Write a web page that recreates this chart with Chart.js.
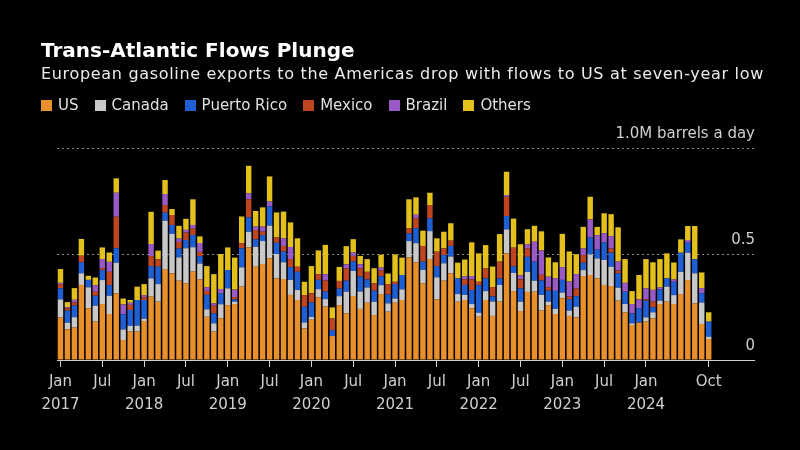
<!DOCTYPE html>
<html>
<head>
<meta charset="utf-8">
<script src="https://cdn.jsdelivr.net/npm/chart.js@4.4.1/dist/chart.umd.min.js"></script>
<style>
html,body{margin:0;padding:0;background:#000;}
#wrap{position:relative;width:800px;height:450px;background:#000;overflow:hidden;}
#title{position:absolute;left:41px;top:38px;font:bold 20px "DejaVu Sans";color:#fff;white-space:nowrap;}
#sub{position:absolute;left:41px;top:64px;font:16px "DejaVu Sans";letter-spacing:0.68px;color:#ececec;white-space:nowrap;}
#legend{position:absolute;left:41px;top:96px;font:15px "DejaVu Sans";color:#e0e0e0;display:flex;white-space:nowrap;}
.item{display:flex;align-items:center;margin-right:16px;}
.sw{width:11px;height:11px;margin-right:6px;}
canvas{position:absolute;left:0;top:0;}
</style>
</head>
<body>
<div id="wrap">
  <canvas id="c" width="800" height="450"></canvas>
  <div id="title">Trans-Atlantic Flows Plunge</div>
  <div id="sub">European gasoline exports to the Americas drop with flows to US at seven-year low</div>
  <div id="legend"></div>
</div>
<script>
// ---- Data (million barrels a day), monthly Jan 2017 – Oct 2024 ----
const seriesNames = ['US', 'Canada', 'Puerto Rico', 'Mexico', 'Brazil', 'Others'];
const seriesColors = ['#e8902c', '#c8c8c8', '#1f5fd4', '#bf4520', '#9a5ac6', '#e3c01c'];

const us = [
  0.200,0.145,0.153,0.354,0.244,0.181,0.264,0.217,0.314,0.094,0.134,0.134,
  0.184,0.299,0.275,0.429,0.409,0.374,0.362,0.417,0.380,0.204,0.134,0.197,
  0.259,0.264,0.346,0.531,0.440,0.453,0.480,0.385,0.382,0.307,0.283,0.149,
  0.190,0.296,0.252,0.113,0.259,0.220,0.302,0.241,0.270,0.212,0.311,0.228,
  0.270,0.283,0.484,0.461,0.362,0.476,0.286,0.374,0.409,0.275,0.283,0.244,
  0.204,0.283,0.208,0.275,0.503,0.325,0.231,0.321,0.322,0.233,0.259,0.217,
  0.291,0.208,0.201,0.396,0.401,0.385,0.354,0.349,0.280,0.225,0.165,0.176,
  0.181,0.197,0.264,0.275,0.264,0.311,0.377,0.267,0.170,0.099
];
const canada = [
  0.086,0.031,0.049,0.055,0.099,0.075,0.113,0.086,0.145,0.050,0.027,0.028,
  0.011,0.086,0.083,0.228,0.186,0.110,0.165,0.115,0.075,0.035,0.039,0.066,
  0.079,0.011,0.091,0.074,0.094,0.108,0.154,0.115,0.079,0.071,0.047,0.028,
  0.013,0.038,0.035,0.000,0.042,0.102,0.118,0.082,0.072,0.063,0.042,0.039,
  0.020,0.050,0.077,0.090,0.063,0.132,0.104,0.082,0.079,0.036,0.024,0.020,
  0.019,0.042,0.068,0.079,0.113,0.086,0.044,0.094,0.052,0.074,0.016,0.024,
  0.027,0.025,0.050,0.028,0.097,0.094,0.118,0.091,0.061,0.039,0.008,0.000,
  0.020,0.028,0.016,0.071,0.042,0.105,0.129,0.142,0.101,0.011
];
const puertoRico = [
  0.052,0.057,0.055,0.052,0.035,0.047,0.047,0.050,0.068,0.072,0.075,0.121,
  0.088,0.058,0.082,0.038,0.042,0.042,0.039,0.058,0.035,0.068,0.047,0.050,
  0.086,0.011,0.090,0.068,0.035,0.028,0.090,0.053,0.050,0.060,0.086,0.074,
  0.068,0.044,0.036,0.028,0.036,0.052,0.044,0.071,0.038,0.052,0.042,0.042,
  0.068,0.068,0.036,0.071,0.039,0.060,0.053,0.039,0.050,0.074,0.047,0.066,
  0.130,0.060,0.024,0.031,0.063,0.031,0.063,0.072,0.090,0.068,0.052,0.085,
  0.060,0.053,0.050,0.035,0.080,0.042,0.082,0.066,0.068,0.058,0.047,0.068,
  0.079,0.024,0.053,0.039,0.063,0.090,0.047,0.066,0.044,0.071
];
const mexico = [
  0.020,0.011,0.014,0.031,0.000,0.019,0.008,0.063,0.149,0.000,0.024,0.000,
  0.013,0.047,0.035,0.036,0.047,0.031,0.035,0.031,0.020,0.019,0.036,0.000,
  0.000,0.011,0.024,0.085,0.044,0.016,0.000,0.025,0.027,0.038,0.024,0.055,
  0.044,0.027,0.052,0.055,0.036,0.058,0.027,0.039,0.036,0.035,0.028,0.049,
  0.011,0.000,0.024,0.047,0.074,0.063,0.068,0.031,0.025,0.000,0.027,0.050,
  0.016,0.047,0.044,0.079,0.091,0.088,0.042,0.039,0.000,0.027,0.016,0.000,
  0.000,0.013,0.036,0.036,0.000,0.000,0.000,0.020,0.013,0.000,0.000,0.000,
  0.006,0.027,0.000,0.000,0.000,0.000,0.000,0.000,0.000,0.000
];
const brazil = [
  0.006,0.005,0.013,0.000,0.000,0.031,0.044,0.047,0.113,0.046,0.010,0.000,
  0.009,0.057,0.000,0.052,0.000,0.016,0.013,0.016,0.042,0.017,0.011,0.022,
  0.000,0.035,0.000,0.028,0.016,0.024,0.024,0.000,0.036,0.057,0.000,0.000,
  0.000,0.000,0.030,0.000,0.000,0.019,0.016,0.019,0.000,0.000,0.013,0.000,
  0.000,0.000,0.000,0.016,0.000,0.000,0.000,0.000,0.000,0.000,0.013,0.016,
  0.000,0.000,0.000,0.000,0.008,0.000,0.020,0.019,0.094,0.115,0.050,0.060,
  0.060,0.071,0.068,0.031,0.085,0.068,0.044,0.058,0.042,0.042,0.044,0.042,
  0.052,0.055,0.009,0.000,0.011,0.000,0.013,0.000,0.024,0.000
];
const others = [
  0.065,0.024,0.055,0.079,0.019,0.036,0.055,0.044,0.068,0.028,0.013,0.063,
  0.053,0.152,0.041,0.066,0.028,0.060,0.052,0.121,0.031,0.100,0.138,0.165,
  0.107,0.151,0.126,0.130,0.074,0.091,0.118,0.118,0.126,0.116,0.134,0.063,
  0.128,0.112,0.138,0.052,0.066,0.086,0.063,0.039,0.060,0.071,0.061,0.050,
  0.129,0.082,0.137,0.082,0.072,0.058,0.063,0.079,0.082,0.074,0.080,0.159,
  0.134,0.110,0.097,0.130,0.110,0.137,0.146,0.072,0.075,0.090,0.091,0.075,
  0.157,0.142,0.094,0.102,0.107,0.039,0.094,0.104,0.162,0.112,0.061,0.115,
  0.138,0.130,0.134,0.118,0.080,0.063,0.066,0.157,0.074,0.044
];
const seriesValues = [us, canada, puertoRico, mexico, brazil, others];

// Categories: months Jan 2017 .. Oct 2024, plus empty months that pad the axis on the right
const categories = [];
for (let y = 2017; y <= 2025; y++) {
  for (let m = 1; m <= 12; m++) {
    if (categories.length >= 100) break;
    categories.push(y + '-' + String(m).padStart(2, '0'));
  }
}

const xTickLabels = {
  '2017-01': ['Jan', '2017'], '2017-07': ['Jul'],
  '2018-01': ['Jan', '2018'], '2018-07': ['Jul'],
  '2019-01': ['Jan', '2019'], '2019-07': ['Jul'],
  '2020-01': ['Jan', '2020'], '2020-07': ['Jul'],
  '2021-01': ['Jan', '2021'], '2021-07': ['Jul'],
  '2022-01': ['Jan', '2022'], '2022-07': ['Jul'],
  '2023-01': ['Jan', '2023'], '2023-07': ['Jul'],
  '2024-01': ['Jan', '2024'], '2024-10': ['Oct']
};
const yTickValues = [0, 0.5, 1.0];
const yTickLabels = ['0', '0.5', '1.0M barrels a day'];

// ---- Legend (HTML) ----
const legendEl = document.getElementById('legend');
seriesNames.forEach((n, i) => {
  const it = document.createElement('div'); it.className = 'item';
  const sw = document.createElement('div'); sw.className = 'sw'; sw.style.background = seriesColors[i];
  const tx = document.createElement('span'); tx.textContent = n;
  it.appendChild(sw); it.appendChild(tx); legendEl.appendChild(it);
});

// ---- Plugin: right-side value labels above the gridlines ----
const yLabelPlugin = {
  id: 'yLabels',
  afterDraw(chart) {
    const ctx = chart.ctx, ys = chart.scales.y, area = chart.chartArea;
    ctx.save();
    ctx.font = '15px "DejaVu Sans"';
    ctx.fillStyle = '#cfcfcf';
    ctx.textAlign = 'right';
    ctx.textBaseline = 'alphabetic';
    yTickValues.forEach((v, i) => {
      ctx.fillText(yTickLabels[i], area.right + 1, ys.getPixelForValue(v) - 10);
    });
    ctx.restore();
  }
};

new Chart(document.getElementById('c'), {
  type: 'bar',
  data: {
    labels: categories,
    datasets: seriesNames.map((n, i) => ({
      label: n,
      data: seriesValues[i],
      backgroundColor: seriesColors[i],
      borderWidth: 0,
      categoryPercentage: 1.0,
      barPercentage: 0.78
    }))
  },
  options: {
    responsive: false,
    animation: false,
    devicePixelRatio: 1,
    layout: { padding: { left: 57, right: 46, top: 148, bottom: 30 } },
    plugins: { legend: { display: false }, tooltip: { enabled: false }, title: { display: false } },
    scales: {
      x: {
        stacked: true,
        afterFit(s) { s.height = 60; },
        grid: {
          drawOnChartArea: false,
          offset: false,
          drawTicks: true,
          tickLength: 7,
          tickColor: (c) => (xTickLabels[categories[c.index]] ? '#d0d0d0' : 'rgba(0,0,0,0)')
        },
        border: { display: true, color: '#d0d0d0', width: 1 },
        ticks: {
          autoSkip: false,
          maxRotation: 0,
          minRotation: 0,
          padding: 4,
          color: '#d0d0d0',
          font: { family: 'DejaVu Sans', size: 15, lineHeight: 1.5 },
          callback: (v, i) => xTickLabels[categories[i]] || ''
        }
      },
      y: {
        stacked: true,
        min: 0,
        max: 1.0,
        afterFit(s) { s.width = 0; },
        afterBuildTicks(s) { s.ticks = yTickValues.map(v => ({ value: v })); },
        ticks: { display: false },
        grid: {
          drawTicks: false,
          lineWidth: 1,
          color: (c) => (c.tick && c.tick.value === 0 ? 'rgba(0,0,0,0)' : '#8a8a8a')
        },
        border: { display: false, dash: [2, 3] }
      }
    }
  },
  plugins: [yLabelPlugin]
});
</script>
</body>
</html>
